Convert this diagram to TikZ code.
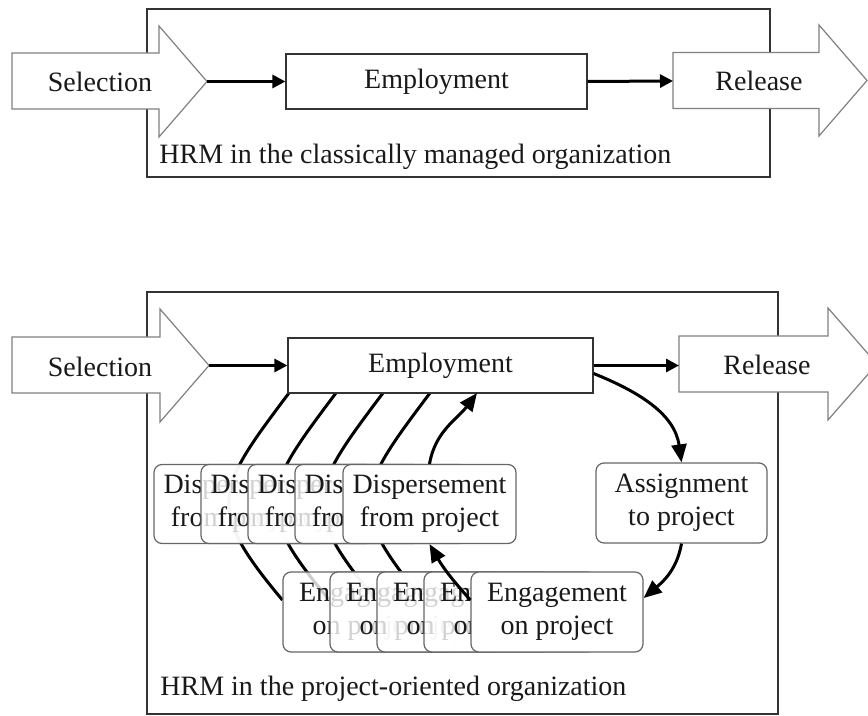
\documentclass[tikz,border=0pt]{standalone}
\usepackage{fontspec}
\setmainfont{Liberation Serif}
\usetikzlibrary{arrows.meta, backgrounds}

\tikzset{
  frame/.style={draw=black!80, line width=0.6pt},
  bigarrow/.style={draw=black!50, fill=white, line width=0.6pt},
  plain/.style={inner sep=0pt, text=black!90},
  phase/.style={draw=black!80, fill=white, line width=0.6pt, inner sep=0pt, text=black!90},
  stage/.style={draw=black!60, fill=white, rounded corners=4pt, line width=0.6pt, align=center,
    inner sep=0pt, minimum width=86.5pt, minimum height=39.5pt, text=black!90},
  ghost/.style={stage, fill opacity=0.8, text opacity=1},
  arc/.style={line width=1.5pt},
  link/.style={line width=1.5pt, -{Triangle[length=6.5pt,width=6.5pt]}},
  cycle arrow/.style={line width=1.5pt, -{Triangle[length=9pt,width=7.5pt]}}
}

\begin{document}
\begin{tikzpicture}[x=0.5pt, y=0.5pt, font=\fontsize{14}{16.5}\selectfont]
\useasboundingbox (0,0) rectangle (868,-716);

% classically managed organization
\draw[frame] (147,-9) rectangle (770,-177);
\draw[bigarrow] (12,-53) -- (159,-53) -- (159,-26) -- (207,-81.5) -- (159,-137) -- (159,-109) -- (12,-109) -- cycle;
\draw[bigarrow] (673,-52.5) -- (819,-52.5) -- (819,-25) -- (867,-80.5) -- (819,-136) -- (819,-108.5) -- (673,-108.5) -- cycle;
\coordinate (seltipA) at (207,-81.5);
\coordinate (relinA) at (673,-81);
\node[plain] (selA) at (100,-82) {Selection};
\node[plain] (relA) at (759,-81) {Release};
\node[phase, minimum width=150.5pt, minimum height=27.5pt] (empA) at (436.5,-81.5) {Employment};
\draw[link] (seltipA) -- (empA.west);
\draw[link] (empA.east) -- (relinA);
\node[plain, anchor=base west] (hrmA) at (159,-164) {HRM in the classically managed organization};

% project-oriented organization
\draw[frame] (147,-292) rectangle (778,-714);
\draw[bigarrow] (12,-337) -- (160,-337) -- (160,-309) -- (209,-365.5) -- (160,-422) -- (160,-393) -- (12,-393) -- cycle;
\draw[bigarrow] (679,-336) -- (828,-336) -- (828,-308) -- (877,-364) -- (828,-420) -- (828,-392) -- (679,-392) -- cycle;
\coordinate (seltipB) at (209,-365.5);
\coordinate (relinB) at (679,-365.5);
\node[plain] (selB) at (100,-367) {Selection};
\node[plain] (relB) at (767,-365) {Release};
\node[phase, minimum width=152.5pt, minimum height=27.5pt] (empB) at (440.5,-365.5) {Employment};
\draw[link] (seltipB) -- (empB.west);
\draw[link] (empB.east) -- (relinB);

\foreach \i in {0,...,4}
  \coordinate (top\i) at ({289+47*\i},-393);

\foreach \i in {0,...,3} {
  \node[ghost] (disp\i) at ({240.5+47*\i},-504) {Dispersement\\from project};
  \node[ghost, minimum width=86pt, minimum height=40pt] (eng\i) at ({369+47*\i},-612) {Engagement\\on project};
}
\begin{pgfonlayer}{background}
\foreach \i in {0,...,3}
  \draw[arc] (top\i) to[out=233, in=130, looseness=1.5] ([yshift=6pt]eng\i.west);
\end{pgfonlayer}

\node[stage] (dispF) at (429.5,-504) {Dispersement\\from project};
\node[stage, minimum width=86pt, minimum height=40pt] (engF) at (557,-612) {Engagement\\on project};
\node[stage, minimum width=85.5pt, minimum height=40pt] (asg) at (681.5,-503) {Assignment\\to project};

\draw[cycle arrow] ([yshift=-4pt]empB.east) to[out=-22, in=98] (asg.north);
\draw[cycle arrow] (asg.south) to[out=-100, in=40] ([yshift=7pt]engF.east);
\draw[cycle arrow] ([yshift=6pt]engF.west) to[out=132, in=-60] (dispF.south);
\draw[cycle arrow] (dispF.north) to[out=80, in=233] (top4);

\node[plain, anchor=base west] (hrmB) at (160,-695) {HRM in the project-oriented organization};
\end{tikzpicture}
\end{document}
